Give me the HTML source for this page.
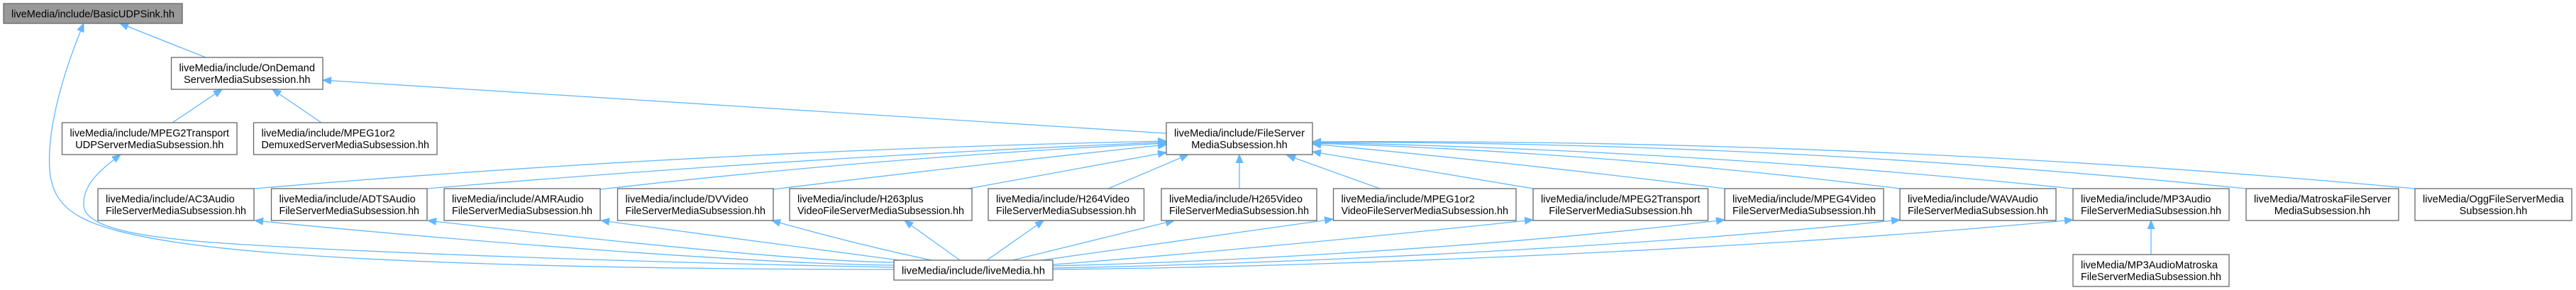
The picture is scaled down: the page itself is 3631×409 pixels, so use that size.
<!DOCTYPE html>
<html>
<head>
<meta charset="utf-8">
<style>
html,body{margin:0;padding:0;background:#fff;}
svg{display:block;}
text{font-family:"Liberation Sans",Arial,sans-serif;font-size:14.6px;fill:#000;}
.b{fill:#fff;stroke:#666;stroke-width:1.3;}
.e{fill:none;stroke:#63B8FF;stroke-width:1.3;marker-end:url(#a);}
.m{text-anchor:middle;}
</style>
</head>
<body>
<svg width="3631" height="409" viewBox="0 0 3631 409" xmlns="http://www.w3.org/2000/svg">
<defs>
<marker id="a" markerWidth="14" markerHeight="12" refX="12" refY="5" orient="auto" markerUnits="userSpaceOnUse">
<path d="M0,0 L12,5 L0,10 z" fill="#63B8FF" stroke="#63B8FF" stroke-width="1"/>
</marker>
</defs>

<!-- edges -->
<path class="e" d="M290,81 L169,33"/>
<path class="e" d="M1260,380 C900,380 450,372 250,342 C120,322 75,300 70,240 C66,180 90,100 118,33"/>
<path class="e" d="M1260,377 C900,370 500,356 300,342 C180,333 120,318 118,290 C116,262 140,240 170,218"/>
<path class="e" d="M243,173 L313,126"/>
<path class="e" d="M453,173 L384,126"/>
<path class="e" d="M1644,188 L455,113"/>

<path class="e" d="M358,266 Q1001,212 1644,199"/>
<path class="e" d="M602,266 Q1123,222 1644,200.5"/>
<path class="e" d="M846,267 Q1245,221.5 1644,202"/>
<path class="e" d="M1090,267 Q1367,233 1644,204"/>
<path class="e" d="M1365,266 L1644,215"/>
<path class="e" d="M1562,266 L1675,218"/>
<path class="e" d="M1747,266 L1747,218"/>
<path class="e" d="M1945,266 L1814,219"/>
<path class="e" d="M2161,266 L1850,214"/>
<path class="e" d="M2431,266 Q2140,230 1850,203"/>
<path class="e" d="M2678,266 Q2264,214.7 1850,202"/>
<path class="e" d="M2922,266 Q2386,211.6 1850,201"/>
<path class="e" d="M3166,266 Q2508,199.8 1850,200.5"/>
<path class="e" d="M3404,266 Q2627,195 1850,200"/>

<path class="e" d="M1260,370 C1150,369 900,345 603,311"/>
<path class="e" d="M1260,374 C1100,373 700,345 359,311"/>
<path class="e" d="M1267,367 L847,311"/>
<path class="e" d="M1313,367 Q1200,343 1088,311"/>
<path class="e" d="M1353,367 L1275,311"/>
<path class="e" d="M1391,367 L1471,311"/>
<path class="e" d="M1427,367 L1655,311"/>
<path class="e" d="M1468,367 L1879,309"/>
<path class="e" d="M1484,373 C1600,365 1900,338 2161,310"/>
<path class="e" d="M1484,375 C1700,370 2100,350 2431,310"/>
<path class="e" d="M1484,378 C1800,372 2300,350 2678,310"/>
<path class="e" d="M1484,380 C1900,376 2500,350 2922,310"/>
<path class="e" d="M3032,359 L3032,311"/>

<!-- nodes -->
<rect x="5" y="5" width="252" height="28" style="fill:#999;stroke:#666;stroke-width:1.3"/>
<text class="m" x="131" y="24.5" textLength="230" lengthAdjust="spacingAndGlyphs">liveMedia/include/BasicUDPSink.hh</text>

<rect class="b" x="241.5" y="81" width="213.5" height="45"/>
<text x="252.5" y="100.3" textLength="191.5" lengthAdjust="spacingAndGlyphs">liveMedia/include/OnDemand</text>
<text class="m" x="348.25" y="116.8">ServerMediaSubsession.hh</text>

<rect class="b" x="87.5" y="173" width="246.5" height="45"/>
<text x="98.5" y="192.3" textLength="224.5" lengthAdjust="spacingAndGlyphs">liveMedia/include/MPEG2Transport</text>
<text class="m" x="210.75" y="208.8">UDPServerMediaSubsession.hh</text>

<rect class="b" x="357.5" y="173" width="258.5" height="45"/>
<text x="368.5" y="192.3">liveMedia/include/MPEG1or2</text>
<text class="m" x="486.75" y="208.8" textLength="236.5" lengthAdjust="spacingAndGlyphs">DemuxedServerMediaSubsession.hh</text>

<rect class="b" x="1644" y="173" width="206" height="45"/>
<text x="1655" y="192.3" textLength="184" lengthAdjust="spacingAndGlyphs">liveMedia/include/FileServer</text>
<text class="m" x="1747" y="208.8">MediaSubsession.hh</text>

<rect class="b" x="138" y="266" width="220" height="45"/>
<text x="149" y="285.3">liveMedia/include/AC3Audio</text>
<text class="m" x="248" y="301.8" textLength="198" lengthAdjust="spacingAndGlyphs">FileServerMediaSubsession.hh</text>

<rect class="b" x="382.5" y="266" width="219.5" height="45"/>
<text x="393.5" y="285.3">liveMedia/include/ADTSAudio</text>
<text class="m" x="492.25" y="301.8" textLength="197.5" lengthAdjust="spacingAndGlyphs">FileServerMediaSubsession.hh</text>

<rect class="b" x="626" y="266" width="220" height="45"/>
<text x="637" y="285.3">liveMedia/include/AMRAudio</text>
<text class="m" x="736" y="301.8" textLength="198" lengthAdjust="spacingAndGlyphs">FileServerMediaSubsession.hh</text>

<rect class="b" x="870.5" y="266" width="219.5" height="45"/>
<text x="881.5" y="285.3">liveMedia/include/DVVideo</text>
<text class="m" x="980.25" y="301.8" textLength="197.5" lengthAdjust="spacingAndGlyphs">FileServerMediaSubsession.hh</text>

<rect class="b" x="1113" y="266" width="257" height="45"/>
<text x="1124" y="285.3">liveMedia/include/H263plus</text>
<text class="m" x="1241.5" y="301.8" textLength="235" lengthAdjust="spacingAndGlyphs">VideoFileServerMediaSubsession.hh</text>

<rect class="b" x="1393" y="266" width="219.5" height="45"/>
<text x="1404" y="285.3">liveMedia/include/H264Video</text>
<text class="m" x="1502.75" y="301.8" textLength="197.5" lengthAdjust="spacingAndGlyphs">FileServerMediaSubsession.hh</text>

<rect class="b" x="1637" y="266" width="219" height="45"/>
<text x="1648" y="285.3">liveMedia/include/H265Video</text>
<text class="m" x="1746.5" y="301.8" textLength="197" lengthAdjust="spacingAndGlyphs">FileServerMediaSubsession.hh</text>

<rect class="b" x="1879.5" y="266" width="257.5" height="45"/>
<text x="1890.5" y="285.3">liveMedia/include/MPEG1or2</text>
<text class="m" x="2008.25" y="301.8" textLength="235.5" lengthAdjust="spacingAndGlyphs">VideoFileServerMediaSubsession.hh</text>

<rect class="b" x="2161" y="266" width="246.5" height="45"/>
<text x="2172" y="285.3" textLength="224.5" lengthAdjust="spacingAndGlyphs">liveMedia/include/MPEG2Transport</text>
<text class="m" x="2284.25" y="301.8">FileServerMediaSubsession.hh</text>

<rect class="b" x="2431" y="266" width="224" height="45"/>
<text x="2442" y="285.3" textLength="202" lengthAdjust="spacingAndGlyphs">liveMedia/include/MPEG4Video</text>
<text class="m" x="2543" y="301.8">FileServerMediaSubsession.hh</text>

<rect class="b" x="2678" y="266" width="220" height="45"/>
<text x="2689" y="285.3">liveMedia/include/WAVAudio</text>
<text class="m" x="2788" y="301.8" textLength="198" lengthAdjust="spacingAndGlyphs">FileServerMediaSubsession.hh</text>

<rect class="b" x="2922" y="266" width="220" height="45"/>
<text x="2933" y="285.3">liveMedia/include/MP3Audio</text>
<text class="m" x="3032" y="301.8" textLength="198" lengthAdjust="spacingAndGlyphs">FileServerMediaSubsession.hh</text>

<rect class="b" x="3166" y="266" width="215" height="45"/>
<text x="3177" y="285.3" textLength="193" lengthAdjust="spacingAndGlyphs">liveMedia/MatroskaFileServer</text>
<text class="m" x="3273.5" y="301.8">MediaSubsession.hh</text>

<rect class="b" x="3404" y="266" width="221" height="45"/>
<text x="3415" y="285.3" textLength="199" lengthAdjust="spacingAndGlyphs">liveMedia/OggFileServerMedia</text>
<text class="m" x="3514.5" y="301.8">Subsession.hh</text>

<rect class="b" x="1260" y="367" width="224" height="28"/>
<text class="m" x="1372" y="386.5" textLength="202" lengthAdjust="spacingAndGlyphs">liveMedia/include/liveMedia.hh</text>

<rect class="b" x="2922" y="359" width="220" height="45"/>
<text x="2933" y="378.3">liveMedia/MP3AudioMatroska</text>
<text class="m" x="3032" y="394.8" textLength="198" lengthAdjust="spacingAndGlyphs">FileServerMediaSubsession.hh</text>
</svg>
</body>
</html>
